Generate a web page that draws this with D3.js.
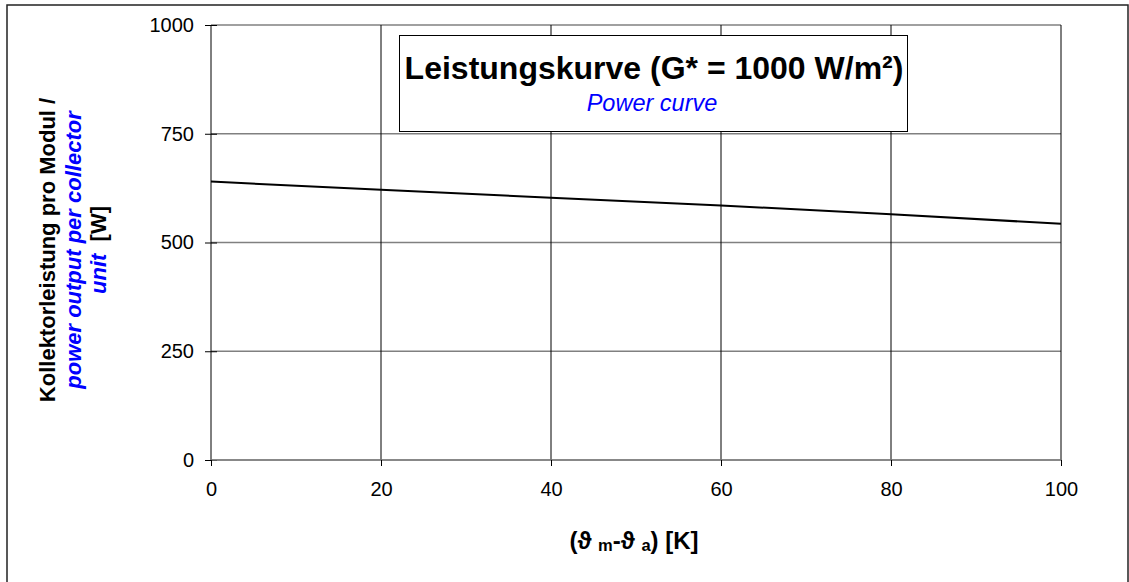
<!DOCTYPE html>
<html><head><meta charset="utf-8">
<script src="https://cdn.jsdelivr.net/npm/d3@7"></script>
<style>body{margin:0;background:#fff}svg{display:block}text{font-family:"Liberation Sans",Arial,sans-serif}</style>
</head><body>
<svg id="c" width="1129" height="582"></svg>
<script>
const xValues = [0, 20, 40, 60, 80, 100];
const powerValues = [640, 621, 603, 585, 565, 543];
const xTicks = [0, 20, 40, 60, 80, 100];
const yTicks = [0, 250, 500, 750, 1000];
const titleMain = "Leistungskurve (G* = 1000 W/m²)";
const titleSub = "Power curve";

const svg = d3.select("#c");
const L = 211, R = 1061, T = 25, B = 460;
const x = d3.scaleLinear().domain([0, 100]).range([L, R]);
const y = d3.scaleLinear().domain([0, 1000]).range([B, T]);

// outer frame
svg.append("rect").attr("x", 7).attr("y", 5).attr("width", 1121).attr("height", 590)
  .attr("fill", "none").attr("stroke", "#222").attr("stroke-width", 1.5);

// horizontal grid (gray)
svg.append("g").selectAll("line").data(yTicks).join("line")
  .attr("x1", L).attr("x2", R).attr("y1", d => y(d)).attr("y2", d => y(d))
  .attr("stroke", "#808080").attr("stroke-width", 1.6);
// vertical grid (black)
svg.append("g").selectAll("line").data(xTicks.slice(1)).join("line")
  .attr("x1", d => x(d)).attr("x2", d => x(d)).attr("y1", T).attr("y2", B)
  .attr("stroke", "#000").attr("stroke-width", 1);

// axes
const yAxis = d3.axisLeft(y).tickValues(yTicks).tickFormat(d3.format("d")).tickSize(6).tickPadding(11);
const gy = svg.append("g").attr("transform", `translate(${L},0)`).call(yAxis);
gy.select(".domain").attr("stroke", "#000").attr("d", `M0,${T}V${B}`);
gy.selectAll(".tick line").attr("stroke", "#000").attr("x1", 6);
gy.selectAll(".tick text").attr("font-size", 20).attr("fill", "#000")
  .attr("font-family", "Liberation Sans, Arial, sans-serif");

const xAxis = d3.axisBottom(x).tickValues(xTicks).tickFormat(d3.format("d")).tickSize(6).tickPadding(16);
const gx = svg.append("g").attr("transform", `translate(0,${B})`).call(xAxis);
gx.select(".domain").attr("stroke", "#808080").attr("stroke-width", 1.6).attr("d", `M${L},0H${R}`);
gx.selectAll(".tick line").attr("stroke", "#000");
gx.selectAll(".tick text").attr("font-size", 20).attr("fill", "#000")
  .attr("font-family", "Liberation Sans, Arial, sans-serif");

// data line
svg.append("path").datum(xValues.map((v, i) => [v, powerValues[i]]))
  .attr("fill", "none").attr("stroke", "#000").attr("stroke-width", 2)
  .attr("d", d3.line().x(d => x(d[0])).y(d => y(d[1])));

// title box
svg.append("rect").attr("x", 399.5).attr("y", 35.5).attr("width", 508).attr("height", 96)
  .attr("fill", "#fff").attr("stroke", "#000").attr("stroke-width", 1);
svg.append("text").attr("x", 654).attr("y", 79).attr("text-anchor", "middle")
  .attr("font-size", 32).attr("font-weight", "bold").attr("fill", "#000").text(titleMain);
svg.append("text").attr("x", 652).attr("y", 111).attr("text-anchor", "middle")
  .attr("font-size", 23.5).attr("font-style", "italic").attr("fill", "#0000ff").text(titleSub);

// y axis title
const yt = svg.append("g").attr("transform", "translate(0,250) rotate(-90)");
yt.append("text").attr("x", 0).attr("y", 55).attr("text-anchor", "middle")
  .attr("font-size", 22).attr("font-weight", "bold").attr("fill", "#000")
  .text("Kollektorleistung pro Modul /");
yt.append("text").attr("x", 0).attr("y", 81).attr("text-anchor", "middle")
  .attr("font-size", 22).attr("font-weight", "bold").attr("font-style", "italic").attr("fill", "#0000ff")
  .text("power output per collector");
const l3 = yt.append("text").attr("x", 0).attr("y", 106).attr("text-anchor", "middle")
  .attr("font-size", 22).attr("font-weight", "bold");
l3.append("tspan").attr("fill", "#0000ff").attr("font-style", "italic").text("unit");
l3.append("tspan").attr("fill", "#000").text("\u00a0\u00a0[W]");

// x axis title
const xt = svg.append("text").attr("x", 634).attr("y", 549).attr("text-anchor", "middle")
  .attr("font-size", 24).attr("font-weight", "bold").attr("fill", "#000");
xt.append("tspan").text("(ϑ ");
xt.append("tspan").attr("font-size", 16.5).attr("dy", 2).text("m");
xt.append("tspan").attr("dy", -2).text("-ϑ ");
xt.append("tspan").attr("font-size", 16.5).attr("dy", 2).text("a");
xt.append("tspan").attr("dy", -2).text(") [K]");
</script>
</body></html>
